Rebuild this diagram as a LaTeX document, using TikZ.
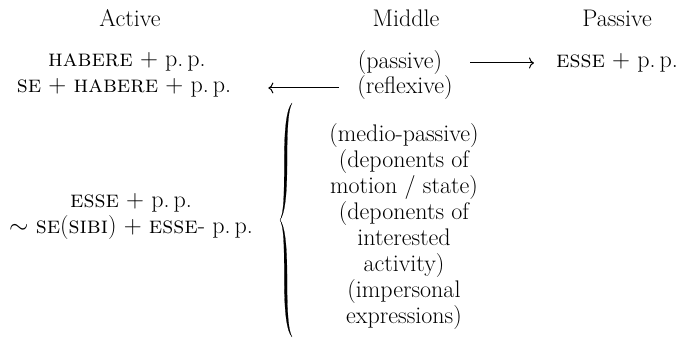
\documentclass[tikz,border=0pt]{standalone}
\usepackage{amsmath}
\usepackage{tikz}
\usetikzlibrary{arrows.meta, positioning}

\newcommand{\pp}{p.\,p.}

\begin{document}
\begin{tikzpicture}[
    x=1pt, y=1pt,
    voice/.style={font=\fontsize{24}{26}\selectfont, inner sep=2pt},
    form/.style={font=\fontsize{24}{26}\selectfont, inner sep=2pt, align=center},
    arrow/.style={-{To[length=5pt, width=11pt]}, line width=1pt, yshift=2pt},
    bracefill/.style={fill=black, draw=black, line width=0.2pt}
  ]

    \useasboundingbox (0,0) rectangle (687,342);

    % -- column heads -------------------------------------------------------
    \node[voice] (h_active)  at (130, 324) {Active};
    \node[voice] (h_middle)  at (406, 324) {Middle};
    \node[voice] (h_passive) at (617, 324) {Passive};

    % -- active forms -------------------------------------------------------
    \node[form] (a_habere)   at (127, 280) {\textsc{habere} $+$ \pp};
    \node[form] (a_sehabere) at (124, 254) {\textsc{se} $+$ \textsc{habere} $+$ \pp};
    \node[form] (a_esse)     at (131, 126)
      {\textsc{esse} $+$ \pp\\ $\sim$ \textsc{se}(\textsc{sibi}) $+$ \textsc{esse}- \pp};

    % -- middle forms -------------------------------------------------------
    \node[form] (m_passive)   at (400, 279) {(passive)};
    \node[form] (m_reflexive) at (405, 254) {(reflexive)};
    \node[form] (m_list)      at (404, 115)
      {(medio-passive)\\(deponents of\\motion / state)\\(deponents of\\
       interested\\activity)\\(impersonal\\expressions)};

    % -- passive forms ------------------------------------------------------
    \node[form] (p_esse) at (617, 279) {\textsc{esse} $+$ \pp};

    % -- arrows -------------------------------------------------------------
    \draw[arrow, shorten <=26pt, shorten >=20pt] (m_passive.east) -- (p_esse.west);
    \draw[arrow, shorten <=16pt, shorten >=35pt]
      (m_reflexive.west) -- (a_sehabere.east |- m_reflexive.west);

    % -- brace, upper arm ---------------------------------------------------
    \fill[bracefill] (292,239) .. controls (286,232) and (284.3,210) .. (284.3,180)
      .. controls (284.3,142) and (283.5,128) .. (280,122)
      .. controls (284.5,128) and (287,145) .. (287,178)
      .. controls (287,212) and (288,232) .. (292,239) -- cycle;
    % -- brace, lower arm ---------------------------------------------------
    \fill[bracefill] (292,5) .. controls (286,12) and (284.3,34) .. (284.3,64)
      .. controls (284.3,102) and (283.5,116) .. (280,122)
      .. controls (284.5,116) and (287,99) .. (287,66)
      .. controls (287,32) and (288,12) .. (292,5) -- cycle;

\end{tikzpicture}
\end{document}
